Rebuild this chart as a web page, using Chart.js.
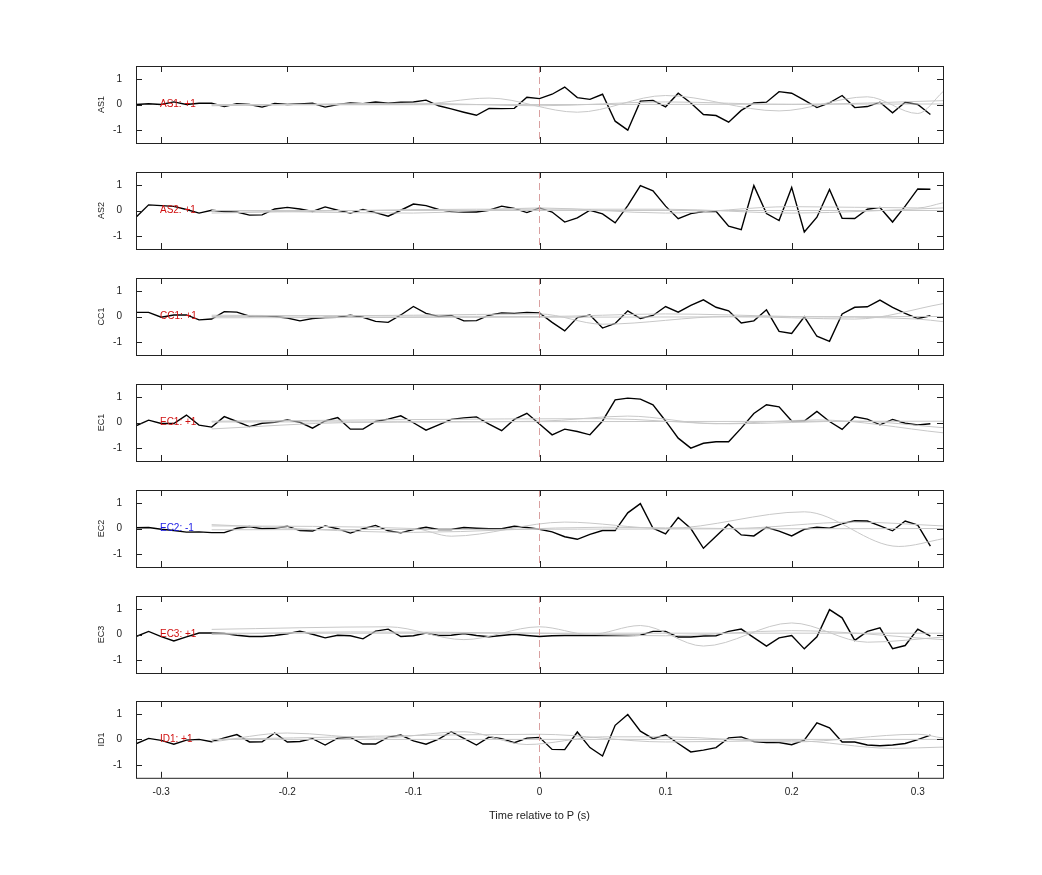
<!DOCTYPE html>
<html>
<head>
<meta charset="utf-8">
<script src="https://cdn.jsdelivr.net/npm/chart.js@4/dist/chart.umd.min.js"></script>
<style>
  body { margin: 0; background: #fff; }
  #wrap { position: relative; width: 1042px; height: 875px; }
  .pane { position: absolute; left: 94px; }
</style>
</head>
<body>
<div id="wrap"></div>
<script>
// time axis of the black traces: -0.32 .. 0.31 s in 0.01 s steps
const sampleCount = 64;
const xTicks = [-0.3, -0.2, -0.1, 0, 0.1, 0.2, 0.3];
const yTicks = [-1, 0, 1];

const stations = ['AS1', 'AS2', 'CC1', 'EC1', 'EC2', 'EC3', 'ID1'];
const polarity = ['+1', '+1', '+1', '+1', '-1', '+1', '+1'];

const as1 = [0,0.03,0,0.1,0,0.05,0.05,-0.08,0.03,0,-0.1,0.04,0,0.02,0.05,-0.1,0,0.06,0.03,0.1,0.05,0.09,0.1,0.17,-0.05,-0.17,-0.3,-0.42,-0.15,-0.16,-0.15,0.28,
  0.23,0.4,0.68,0.27,0.2,0.4,-0.65,-1.0,0.13,0.16,-0.09,0.44,0.06,-0.39,-0.43,-0.69,-0.23,0.06,0.09,0.5,0.44,0.17,-0.12,0.06,0.35,-0.12,-0.08,0.09,-0.32,0.09,0,-0.39];
const as2 = [-0.26,0.22,0.19,0.16,0.04,-0.10,0.01,-0.04,-0.06,-0.18,-0.17,0.06,0.12,0.06,-0.04,0.14,0.01,-0.10,0.04,-0.08,-0.22,0.01,0.25,0.19,0.04,-0.04,-0.06,-0.06,0.01,0.17,0.08,-0.08,
  0.10,-0.06,-0.45,-0.29,0.01,-0.13,-0.48,0.19,0.97,0.77,0.17,-0.32,-0.12,-0.04,-0.03,-0.61,-0.75,0.97,-0.12,-0.39,0.90,-0.84,-0.26,0.82,-0.30,-0.31,0.05,0.12,-0.45,0.17,0.84,0.83];
const cc1 = [0.16,0.16,-0.03,0.06,0.06,-0.13,-0.10,0.19,0.17,0.01,0.03,0,-0.06,-0.17,-0.08,-0.04,-0.03,0.05,-0.03,-0.19,-0.23,0.06,0.39,0.12,0,0.04,-0.17,-0.16,0.05,0.14,0.12,0.16,
  0.14,-0.23,-0.56,-0.04,0.06,-0.45,-0.27,0.22,-0.08,0.04,0.39,0.17,0.43,0.65,0.36,0.22,-0.25,-0.17,0.26,-0.58,-0.66,-0.01,-0.77,-0.97,0.10,0.36,0.38,0.64,0.36,0.12,-0.08,0.03];
const ec1 = [-0.13,0.09,-0.04,-0.04,0.29,-0.10,-0.18,0.23,0.04,-0.16,-0.03,0.01,0.10,0.01,-0.22,0.06,0.19,-0.26,-0.26,0.04,0.13,0.26,-0.01,-0.30,-0.09,0.12,0.18,0.22,-0.06,-0.32,0.12,0.36,
  -0.06,-0.48,-0.26,-0.35,-0.48,0.06,0.88,0.95,0.91,0.69,0.06,-0.61,-1.0,-0.81,-0.75,-0.75,-0.22,0.35,0.69,0.61,0.06,0.06,0.43,0.04,-0.27,0.22,0.13,-0.09,0.12,-0.03,-0.10,-0.05];
const ec2 = [0.03,0.04,-0.03,-0.08,-0.14,-0.13,-0.16,-0.16,0.01,0.08,-0.01,0.01,0.09,-0.08,-0.10,0.10,-0.01,-0.18,-0.01,0.12,-0.09,-0.17,-0.04,0.05,-0.04,-0.04,0.04,0.01,-0.01,-0.01,0.09,0.04,
  -0.03,-0.13,-0.32,-0.42,-0.23,-0.08,-0.08,0.61,0.97,0.01,-0.21,0.43,0,-0.77,-0.30,0.17,-0.25,-0.29,0.05,-0.10,-0.29,-0.03,0.05,0.01,0.19,0.30,0.29,0.10,-0.09,0.29,0.13,-0.69];
const ec3 = [-0.08,0.12,-0.08,-0.25,-0.09,0.06,0.06,0.04,-0.03,-0.08,-0.08,-0.04,0.03,0.13,0.01,-0.13,-0.03,-0.05,-0.17,0.13,0.21,-0.08,-0.05,0.06,-0.04,-0.03,0.04,-0.04,-0.09,-0.04,0.01,-0.04,
  -0.08,-0.05,-0.04,-0.04,-0.03,-0.04,-0.04,-0.04,-0.03,0.12,0.12,-0.10,-0.10,-0.06,-0.05,0.12,0.21,-0.12,-0.45,-0.13,-0.04,-0.56,-0.09,0.97,0.65,-0.23,0.12,0.26,-0.55,-0.43,0.21,-0.06];
const id1 = [-0.17,0.04,-0.04,-0.19,-0.03,0,-0.09,0.06,0.19,-0.10,-0.09,0.25,-0.10,-0.08,0.03,-0.22,0.05,0.08,-0.18,-0.18,0.09,0.17,-0.06,-0.19,0.01,0.30,0.04,-0.22,0.09,0.03,-0.13,0.05,
  0.08,-0.39,-0.40,0.29,-0.32,-0.65,0.55,0.97,0.32,0.03,0.18,-0.16,-0.49,-0.42,-0.32,0.06,0.10,-0.08,-0.12,-0.12,-0.21,-0.03,0.65,0.45,-0.10,-0.10,-0.22,-0.25,-0.22,-0.16,-0.01,0.17];
const traces = [as1, as2, cc1, ec1, ec2, ec3, id1];

// grey comparison traces: [times, values] keyframes per station
const greyAS1 = [
  [[-0.26,-0.1,-0.04,0.03,0.10,0.19,0.26,0.30,0.32], [0,0,0.25,-0.3,0.35,-0.25,0.3,-0.35,0.5]],
  [[-0.26,-0.1,0,0.1,0.2,0.32], [-0.05,0.05,-0.05,0.1,0,0.15]],
  [[-0.26,0.32], [-0.02,0.02]]];
const greyAS2 = [
  [[-0.26,-0.1,0,0.1,0.2,0.3,0.32], [0,-0.1,0.1,-0.1,0.15,0.1,0.3]],
  [[-0.26,-0.05,0.1,0.2,0.32], [-0.1,0.05,0.05,-0.1,0.1]],
  [[-0.26,0.32], [0,0]]];
const greyCC1 = [
  [[-0.26,-0.1,0.0,0.05,0.15,0.25,0.32], [0,0.05,0.1,-0.3,0,-0.1,0.5]],
  [[-0.26,0,0.1,0.2,0.3,0.32], [0.05,0,0.1,0,-0.1,-0.2]],
  [[-0.26,0.32], [-0.05,0]]];
const greyEC1 = [
  [[-0.26,-0.15,0,0.07,0.14,0.22,0.32], [-0.25,0,0.05,0.25,-0.05,0.1,-0.4]],
  [[-0.26,0.05,0.15,0.25,0.32], [0.05,0.15,-0.05,0.05,-0.2]],
  [[-0.26,0.32], [0.02,0.05]]];
const greyEC2 = [
  [[-0.26,-0.1,-0.07,0.02,0.1,0.21,0.285,0.32], [0.1,0,-0.3,0.25,0,0.65,-0.7,-0.4]],
  [[-0.26,-0.1,0.05,0.15,0.25,0.32], [0.15,-0.15,0.05,0,0.25,0.1]],
  [[-0.26,0.32], [-0.05,0]]];
const greyEC3 = [
  [[-0.26,-0.12,-0.06,0.0,0.04,0.08,0.13,0.2,0.26,0.32], [0.2,0.3,-0.2,0.3,0,0.35,-0.45,0.45,-0.3,-0.1]],
  [[-0.26,-0.15,0,0.1,0.2,0.32], [0,0.1,0.05,-0.05,0.15,-0.2]],
  [[-0.26,0.32], [0.05,0.05]]];
const greyID1 = [
  [[-0.26,-0.2,-0.13,-0.06,-0.01,0.05,0.1,0.2,0.3,0.32], [-0.1,0.25,0.05,0.3,-0.2,0.1,0.1,-0.1,0.2,0.05]],
  [[-0.26,0.0,0.1,0.2,0.28,0.32], [0,0.2,-0.1,-0.05,-0.35,-0.3]],
  [[-0.26,0.32], [0,0]]];
const greys = [greyAS1, greyAS2, greyCC1, greyEC1, greyEC2, greyEC3, greyID1];

const paneTops = [66, 172, 278, 384, 490, 596, 702];
const paneH = 76;
const FONT = 'Liberation Sans, Arial, sans-serif';

const framePlugin = {
  id: 'frame',
  afterDatasetsDraw(chart, args, opts) {
    const { ctx, chartArea: a, scales: { x, y } } = chart;
    ctx.save();
    // dashed zero-time marker
    ctx.strokeStyle = '#d9a0a0';
    ctx.lineWidth = 1;
    ctx.setLineDash([7, 4]);
    const x0 = x.getPixelForValue(0);
    ctx.beginPath(); ctx.moveTo(x0, a.top); ctx.lineTo(x0, a.bottom); ctx.stroke();
    ctx.setLineDash([]);
    // box and inward ticks
    ctx.strokeStyle = '#222';
    ctx.strokeRect(a.left + 0.5, a.top + 0.5, a.right - a.left, a.bottom - a.top);
    ctx.beginPath();
    xTicks.forEach(t => {
      const px = Math.round(x.getPixelForValue(t)) + 0.5;
      ctx.moveTo(px, a.bottom); ctx.lineTo(px, a.bottom - 6);
      ctx.moveTo(px, a.top); ctx.lineTo(px, a.top + 6);
    });
    yTicks.forEach(v => {
      const py = Math.round(y.getPixelForValue(v)) + 0.5;
      ctx.moveTo(a.left, py); ctx.lineTo(a.left + 6, py);
      ctx.moveTo(a.right, py); ctx.lineTo(a.right - 6, py);
    });
    ctx.stroke();
    // station label
    ctx.fillStyle = opts.color;
    ctx.font = '10px ' + FONT;
    ctx.textBaseline = 'middle';
    ctx.fillText(opts.text, x.getPixelForValue(-0.301), y.getPixelForValue(0));
    ctx.restore();
  }
};

const wrap = document.getElementById('wrap');
stations.forEach((name, i) => {
  const last = i === stations.length - 1;
  // canvas offsets compensate Chart.js' own label padding so the plot box lands on the pane
  const top = last ? paneTops[i] - 13 : paneTops[i] - 12;
  const h = last ? 138 : paneH + 25;
  const div = document.createElement('div');
  div.className = 'pane';
  div.style.top = top + 'px';
  div.style.width = '850px';
  div.style.height = h + 'px';
  const cv = document.createElement('canvas');
  div.appendChild(cv);
  wrap.appendChild(div);

  const datasets = greys[i].map(g => ({
    data: g[0].map((t, k) => ({ x: t, y: g[1][k] })),
    borderColor: '#c8c8c8', borderWidth: 1, pointRadius: 0, cubicInterpolationMode: 'monotone'
  }));
  datasets.push({
    data: traces[i].map((v, k) => ({ x: Math.round((-0.32 + k * 0.01) * 100) / 100, y: v })),
    borderColor: '#000', borderWidth: 1.4, pointRadius: 0, tension: 0
  });
  if (traces[i].length !== sampleCount) console.warn(name, traces[i].length);

  new Chart(cv, {
    type: 'line',
    data: { datasets },
    options: {
      responsive: true, maintainAspectRatio: false, animation: false,
      layout: { padding: { left: 0, right: 1, top: 0, bottom: 0 } },
      plugins: {
        legend: { display: false }, tooltip: { enabled: false },
        frame: { text: name + ': ' + polarity[i], color: polarity[i] === '-1' ? '#1a1ae6' : '#d01010' }
      },
      scales: {
        x: {
          type: 'linear', min: -0.32, max: 0.32, display: last,
          grid: { display: false }, border: { display: false },
          afterBuildTicks: s => { s.ticks = xTicks.map(v => ({ value: v })); },
          ticks: { color: '#222', font: { family: FONT, size: 10 }, padding: 0, callback: v => String(v) },
          title: { display: last, text: 'Time relative to P (s)', color: '#222', font: { family: FONT, size: 11 }, padding: { top: 12 } }
        },
        y: {
          min: -1.5, max: 1.5,
          grid: { display: false }, border: { display: false },
          afterBuildTicks: s => { s.ticks = yTicks.map(v => ({ value: v })); },
          afterFit: s => { s.width = 42; },
          ticks: { color: '#222', font: { family: FONT, size: 10 }, padding: 6 },
          title: { display: true, text: name, color: '#222', font: { family: FONT, size: 9 }, padding: 2 }
        }
      }
    },
    plugins: [framePlugin]
  });
});
</script>
</body>
</html>
